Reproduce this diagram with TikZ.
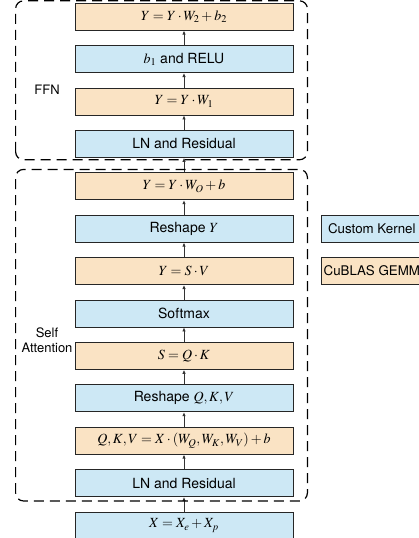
\documentclass[tikz,border=0pt]{standalone}
\usepackage{mathptmx}
\usepackage{fontspec}
\setmainfont{TeX Gyre Heros}
\usetikzlibrary{positioning,calc,arrows.meta}
\definecolor{kernelblue}{HTML}{CDE8F5}
\definecolor{gemmorange}{HTML}{FAE3C4}
\tikzset{
  block/.style={draw=black!85,line width=0.8pt,minimum width=218pt,minimum height=27pt,inner sep=0pt,font=\fontsize{14}{16}\selectfont},
  kernel/.style={block,fill=kernelblue},
  gemm/.style={block,fill=gemmorange},
  legend/.style={minimum width=100pt,font=\fontsize{13.3}{15}\selectfont},
  flow/.style={draw=black!80,line width=0.8pt,-{Latex[length=4pt,width=3.5pt]}},
  group/.style={draw=black,line width=1.2pt,dash pattern=on 10pt off 6pt,rounded corners=8pt},
  tag/.style={font=\fontsize{13}{15}\selectfont,align=center,inner sep=1pt}
}

\begin{document}
\begin{tikzpicture}[x=1pt,y=-1pt,node distance=14.6pt]
  \useasboundingbox (0,0) rectangle (419,538);
  \node[kernel] (emb) at (184,525.5) {$X = X_e + X_p$};
  \node[kernel,above=of emb] (ln1) {LN and Residual};
  \node[gemm,above=of ln1] (qkv) {$Q,K,V = X\cdot(W_Q,W_K,W_V)+b$};
  \node[kernel,above=of qkv] (reshapeqkv) {Reshape $Q,K,V$};
  \node[gemm,above=of reshapeqkv] (score) {$S = Q\cdot K$};
  \node[kernel,above=of score] (softmax) {Softmax};
  \node[gemm,above=of softmax] (context) {$Y = S\cdot V$};
  \node[kernel,above=of context] (reshapey) {Reshape $Y$};
  \node[gemm,above=of reshapey] (proj) {$Y = Y\cdot W_O + b$};
  \node[kernel,above=of proj] (ln2) {LN and Residual};
  \node[gemm,above=of ln2] (ffnone) {$Y = Y\cdot W_1$};
  \node[kernel,above=of ffnone] (relu) {$b_1$ and RELU};
  \node[gemm,above=of relu] (ffntwo) {$Y = Y\cdot W_2 + b_2$};

  \foreach \a/\b in {emb/ln1,ln1/qkv,qkv/reshapeqkv,reshapeqkv/score,score/softmax,
    softmax/context,context/reshapey,reshapey/proj,proj/ln2,ln2/ffnone,ffnone/relu,relu/ffntwo}
    \draw[flow] (\a.north) -- (\b.south);

  \draw[group] ($(ln1.south west)+(-59,4)$) rectangle ($(proj.north east)+(14,-3)$);
  \draw[group] ($(ln2.south west)+(-59,2)$) rectangle ($(ffntwo.north east)+(14,-2)$);
  \node[tag] (ffnlabel) at (47,90) {FFN};
  \node[tag] (attnlabel) at (47,340) {Self\\Attention};

  \node[kernel,legend,right=28pt of reshapey] (kernelkey) {Custom Kernel};
  \node[gemm,legend,right=28pt of context] (gemmkey) {CuBLAS GEMM};
\end{tikzpicture}
\end{document}
